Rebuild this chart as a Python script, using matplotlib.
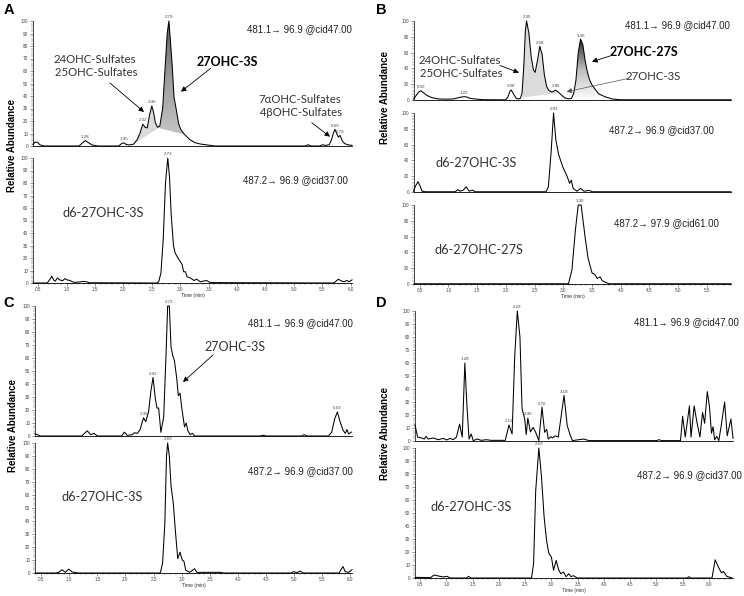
import matplotlib
matplotlib.use("Agg")
import matplotlib.pyplot as plt
import numpy as np
from matplotlib.patches import Polygon
from matplotlib.ticker import MultipleLocator, FormatStrFormatter
from matplotlib.colors import LinearSegmentedColormap

W, H = 744, 596
plt.rcParams['font.family'] = ['Liberation Sans', 'DejaVu Sans']
LABEL_FONT = ['Lato', 'DejaVu Sans']

# ---- chromatogram traces (time in min, relative abundance) ----
a_top_t = [0.41, 0.44, 0.49, 0.53, 0.60, 1.22, 1.28, 1.33, 1.39, 1.45, 1.55, 1.92, 1.97, 2.01, 2.05, 2.10,
           2.18, 2.24, 2.29, 2.34, 2.38, 2.42, 2.46, 2.50, 2.53, 2.56, 2.60, 2.64, 2.69, 2.73, 2.77, 2.80,
           2.83, 2.86, 2.89, 2.93, 2.97, 3.01, 3.08, 3.17, 3.26, 3.35, 3.45, 3.60, 5.20, 5.25, 5.30, 5.45,
           5.50, 5.55, 5.62, 5.66, 5.69, 5.72, 5.75, 5.78, 5.81, 5.85, 5.89, 5.94, 6.02]
a_top_y = [1, 3, 3, 1, 0, 0, 2.5, 4.3, 2.5, 0.8, 0, 0, 2, 2.5, 1.2, 0.8,
           1.5, 5, 10, 17.5, 15, 14.5, 25, 32, 27, 19, 15, 16, 30, 60, 90, 100,
           82, 63, 39, 29, 18, 13, 9, 5, 2.7, 1.6, 1, 0, 0, 1, 0, 0,
           1, 0.5, 1, 5, 10, 13.3, 10, 7, 8.5, 4, 2, 1, 0.5]
a_top_peaks = [("1.28", 1.33, 4.3), ("1.95", 2.01, 2.5), ("2.32", 2.34, 17.5), ("2.46", 2.50, 32),
               ("2.79", 2.80, 100), ("5.69", 5.72, 13.3), ("5.79", 5.81, 8.5)]

a_bot_t = [0.41, 0.66, 0.71, 0.74, 0.78, 0.80, 0.84, 0.88, 0.93, 0.97, 1.01, 1.06, 1.10, 1.15, 1.22, 1.30,
           1.35, 1.40, 2.58, 2.62, 2.66, 2.70, 2.74, 2.78, 2.81, 2.84, 2.88, 2.91, 2.96, 3.03, 3.06, 3.09,
           3.12, 3.18, 3.24, 3.29, 3.35, 3.46, 3.52, 3.60, 5.70, 5.74, 5.78, 5.84, 5.88, 5.93, 5.97, 6.02]
a_bot_y = [0, 0, 3, 5.4, 2, 1.5, 4, 2.5, 1.8, 3.5, 2.5, 2, 1, 0.5, 0.8, 1.3,
           1, 0.2, 0, 1, 8, 35, 80, 100, 85, 55, 30, 24, 20, 15, 9, 9,
           5, 4, 2, 3, 1, 2, 0.5, 0.3, 0, 1.5, 3, 1.5, 1, 2, 1, 2.5]
a_bot_peaks = [("2.73", 2.78, 100)]

b_top_t = [0.39, 0.43, 0.48, 0.52, 0.57, 0.62, 0.71, 0.83, 1.00, 1.10, 1.20, 1.27, 1.32, 1.38, 1.47, 1.59,
           1.99, 2.03, 2.07, 2.09, 2.13, 2.18, 2.22, 2.25, 2.28, 2.31, 2.34, 2.36, 2.40, 2.44, 2.48, 2.51,
           2.55, 2.59, 2.63, 2.67, 2.71, 2.75, 2.80, 2.87, 2.92, 2.97, 3.03, 3.09, 3.14, 3.18, 3.22, 3.26,
           3.30, 3.34, 3.38, 3.42, 3.46, 3.50, 3.61, 3.73, 3.85, 4.00, 5.92]
b_top_y = [1, 5, 10, 11.8, 9, 6, 3, 1.3, 1, 1.5, 3.4, 4.2, 3.8, 2, 1.3, 0.4,
           0.2, 3, 11, 12.7, 8, 2, 1.3, 2, 8, 40, 88, 100, 85, 55, 38, 35,
           50, 68, 58, 32, 17, 12, 10, 12.5, 9.5, 6, 2.5, 1.5, 2, 8, 25, 60,
           77, 70, 50, 35, 25, 19, 8, 4, 1.3, 0.3, 0.3]
b_top_peaks = [("0.50", 0.52, 11.8), ("1.22", 1.27, 4.2), ("2.08", 2.09, 12.7), ("2.35", 2.36, 100),
               ("2.58", 2.59, 68), ("2.86", 2.87, 12.5), ("3.30", 3.30, 77)]

b_mid_t = [0.39, 0.43, 0.47, 0.51, 0.54, 0.60, 1.12, 1.16, 1.20, 1.26, 1.31, 1.36, 1.42, 1.46, 2.70, 2.74,
           2.79, 2.83, 2.87, 2.92, 2.99, 3.07, 3.11, 3.14, 3.17, 3.24, 3.30, 3.36, 3.45, 3.51, 5.92]
b_mid_y = [1, 8, 13, 7, 1, 0.3, 0.3, 3, 1, 2.5, 6.5, 1, 2.5, 0.3, 0.3, 6.5,
           53, 100, 66, 47, 32, 19, 11, 15, 4.6, 1, 4.6, 1, 2, 0.3, 0.3]
b_mid_peaks = [("2.83", 2.83, 100)]

b_bot_t = [0.40, 3.09, 3.15, 3.21, 3.26, 3.31, 3.38, 3.43, 3.50, 3.55, 3.59, 3.64, 3.68, 3.74, 3.80, 5.92]
b_bot_y = [0.3, 0.3, 17.7, 68, 100, 100, 59, 33, 14, 12, 7, 9, 4, 2, 0.3, 0.3]
b_bot_peaks = [("3.30", 3.285, 100)]

c_top_t = [0.39, 0.43, 0.48, 1.22, 1.27, 1.32, 1.38, 1.44, 1.50, 1.93, 1.98, 2.03, 2.12, 2.16, 2.21, 2.26,
           2.32, 2.36, 2.41, 2.45, 2.49, 2.53, 2.56, 2.59, 2.63, 2.68, 2.72, 2.75, 2.78, 2.81, 2.84, 2.87,
           2.91, 2.94, 2.97, 3.00, 3.03, 3.05, 3.08, 3.11, 3.15, 3.19, 3.23, 4.40, 4.45, 4.50, 5.13, 5.18,
           5.23, 5.61, 5.67, 5.72, 5.77, 5.81, 5.87, 5.91, 5.94, 5.97, 6.02]
c_top_y = [1.5, 1.2, 0, 0, 2, 4, 1, 2, 0, 0, 3, 0.5, 1, 2.5, 2, 5,
           14, 11, 18.5, 34, 45, 29, 21.5, 21.5, 2.8, 14.8, 61, 100, 100, 68.6, 62, 58,
           45, 31, 33, 22, 13, 7, 10, 4, 1, 2, 0, 0, 0.6, 0, 0, 1,
           0, 0, 3, 13, 18.5, 12, 4.5, 2, 5, 1.5, 3]
c_top_peaks = [("2.35", 2.32, 14), ("2.42", 2.49, 45), ("2.73", 2.765, 100), ("5.69", 5.77, 18.5)]

c_bot_t = [0.39, 0.76, 0.81, 0.87, 0.93, 0.99, 1.05, 1.17, 2.62, 2.66, 2.70, 2.73, 2.75, 2.78, 2.81, 2.85,
           2.89, 2.93, 2.97, 3.01, 3.04, 3.07, 3.14, 3.23, 3.27, 3.68, 3.75, 4.95, 4.99, 5.05, 5.11, 5.16,
           5.80, 5.87, 5.91, 5.97, 6.03]
c_bot_y = [0, 0, 0.4, 2.5, 0.5, 3, 0.8, 0, 0, 7.7, 38, 90, 100, 90, 67, 54,
           31, 11, 16, 10, 9, 2.3, 0.5, 3.3, 0.5, 0.5, 0, 0, 1, 0.3, 1.5, 0,
           0, 5, 1, 0.5, 2.5]
c_bot_peaks = [("2.69", 2.75, 100)]

d_top_t = [0.40, 0.45, 0.53, 0.58, 0.61, 0.65, 0.75, 0.84, 0.94, 1.00, 1.07, 1.13, 1.19, 1.25, 1.30, 1.35,
           1.39, 1.43, 1.47, 1.51, 1.59, 1.66, 1.76, 1.85, 2.12, 2.19, 2.25, 2.30, 2.35, 2.40, 2.44, 2.49,
           2.52, 2.55, 2.60, 2.65, 2.70, 2.76, 2.82, 2.87, 2.91, 2.94, 2.99, 3.02, 3.07, 3.13, 3.24, 3.30,
           3.35, 3.40, 3.52, 3.62, 3.71, 5.00, 5.05, 5.10, 5.46, 5.50, 5.55, 5.63, 5.66, 5.72, 5.77, 5.83,
           5.88, 5.92, 5.97, 6.01, 6.05, 6.08, 6.11, 6.15, 6.19, 6.24, 6.30, 6.35, 6.42, 6.46]
d_top_y = [12.3, 3, 2.3, 1.5, 3.6, 1.5, 2.3, 1, 2, 0.8, 2, 1, 3, 13, 3, 60,
           27, 1.5, 5.4, 0.3, 1.5, 0.5, 1, 0.5, 0.5, 12.3, 5.4, 65, 100, 80, 25, 17,
           5, 17.6, 7, 10.5, 6.7, 0.3, 26, 6.7, 9, 1.5, 3.3, 2.3, 4, 3, 35, 12,
           5.4, 0.3, 1, 1.5, 0.3, 0.3, 1, 0.3, 0.3, 19, 3, 27, 3, 27, 15, 3,
           22, 13.6, 38, 27, 6, 11, 1, 3.5, 0.3, 13, 30, 4, 17, 2]
d_top_peaks = [("1.28", 1.35, 60), ("2.12", 2.19, 12.3), ("2.29", 2.35, 100), ("2.40", 2.55, 17.6),
               ("2.76", 2.82, 26), ("3.18", 3.24, 35)]

d_bot_t = [0.40, 0.70, 0.76, 0.85, 0.94, 1.01, 1.07, 1.38, 1.42, 1.46, 2.62, 2.66, 2.70, 2.76, 2.81, 2.86,
           2.91, 2.95, 3.00, 3.04, 3.09, 3.14, 3.18, 3.23, 3.28, 3.33, 3.37, 3.42, 3.49, 5.58, 5.62, 5.66,
           6.06, 6.12, 6.19, 6.24, 6.28, 6.34, 6.44]
d_bot_y = [0.5, 0.3, 2.3, 1.5, 0.8, 1.3, 0, 0, 1.3, 0, 0, 11, 67, 100, 78, 47,
           28, 19, 16, 6, 13.5, 6, 3.3, 4.6, 1, 3.3, 1, 1.8, 0, 0, 1, 0,
           0, 14, 7.7, 4, 5, 1.3, 0]
d_bot_peaks = [("2.69", 2.76, 100)]


def px(x, y):
    return x / W, 1 - y / H


def make_ax(fig, x0, x1, ybase, ytop, tlim, ystep, yminor, bottom):
    ax = fig.add_axes([x0 / W, 1 - ybase / H, (x1 - x0) / W, (ybase - ytop) / H])
    ax.patch.set_alpha(0)
    for s in ('top', 'right'):
        ax.spines[s].set_visible(False)
    ax.spines['left'].set_linewidth(0.5)
    ax.spines['bottom'].set_linewidth(0.6)
    ax.yaxis.set_major_locator(MultipleLocator(ystep))
    ax.yaxis.set_minor_locator(MultipleLocator(yminor))
    ax.tick_params(axis='y', which='major', labelsize=3.3, length=2.2, width=0.4, pad=1.2,
                   colors='#444')
    ax.tick_params(axis='y', which='minor', length=1.3, width=0.3, colors='#444')
    if bottom:
        ax.xaxis.set_major_locator(MultipleLocator(0.5))
        ax.xaxis.set_minor_locator(MultipleLocator(0.1))
        ax.xaxis.set_major_formatter(FormatStrFormatter('%.1f'))
        ax.tick_params(axis='x', which='major', labelsize=3.3, length=2.2, width=0.4, pad=1,
                       colors='#444')
        ax.tick_params(axis='x', which='minor', length=1.3, width=0.3, colors='#444')
        ax.set_xlabel('Time (min)', fontsize=3.6, labelpad=0.5, color='#333')
    else:
        ax.tick_params(axis='x', which='both', bottom=False, labelbottom=False)
    ax._lims = (tlim, (0, 100))
    return ax


def finish(ax):
    ax.set_xlim(*ax._lims[0])
    ax.set_ylim(*ax._lims[1])


def trace(ax, t, y, peaks):
    ax.plot(t, y, color='black', lw=0.75, clip_on=False, zorder=3)
    for lab, pt, py in peaks:
        ax.annotate(lab, (pt, py), xytext=(0, 1.2), textcoords='offset points', ha='center',
                    va='bottom', fontsize=3.2, color='#444', annotation_clip=False)


def region(ax, t, y, t0, t1, b0, b1, colors):
    tt = np.asarray(t, float)
    yy = np.asarray(y, float)
    m = (tt > t0) & (tt < t1)
    xs = np.concatenate([[t0], tt[m], [t1]])
    ys = np.concatenate([[np.interp(t0, tt, yy)], yy[m], [np.interp(t1, tt, yy)]])
    verts = list(zip(xs, ys)) + [(t1, b1), (t0, b0)]
    poly = Polygon(verts, closed=True, facecolor='none', edgecolor='none')
    ax.add_patch(poly)
    if len(colors) == 1:
        poly.set_facecolor(colors[0])
        return
    cmap = LinearSegmentedColormap.from_list('g', colors)
    grad = np.linspace(0, 1, 256).reshape(-1, 1)
    im = ax.imshow(grad, extent=(t0, t1, min(b0, b1), ys.max()), origin='lower', aspect='auto',
                   cmap=cmap, zorder=1)
    im.set_clip_path(poly)


def ftext(fig, x, y, s, **kw):
    kw.setdefault('ha', 'center')
    kw.setdefault('va', 'center')
    fig.text(*px(x, y), s, **kw)


def arrow(fig, x0, y0, x1, y1, color='black', lw=0.6):
    fig.add_artist(matplotlib.patches.FancyArrowPatch(
        px(x0, y0), px(x1, y1), transform=fig.transFigure, arrowstyle='-|>,head_length=3,head_width=1.5',
        color=color, lw=lw, shrinkA=0, shrinkB=0))


fig = plt.figure(figsize=(W / 100, H / 100), dpi=100)

# ---- panel A ----
tA = (0.41, 6.02)
ax = make_ax(fig, 33, 352, 146, 21, tA, 10, 2, False)
region(ax, a_top_t, a_top_y, 2.18, 2.62, 1.5, 14.5, ['#dadada'])
region(ax, a_top_t, a_top_y, 2.62, 3.08, 14.5, 9, ['#c4c4c4', '#9c9c9c', '#5e5e5e'])
trace(ax, a_top_t, a_top_y, a_top_peaks)
finish(ax)
ax = make_ax(fig, 33, 352, 283, 158, tA, 10, 2, True)
trace(ax, a_bot_t, a_bot_y, a_bot_peaks)
finish(ax)

# ---- panel B ----
tB = (0.40, 5.92)
ax = make_ax(fig, 414, 731, 100, 21, tB, 20, 4, False)
region(ax, b_top_t, b_top_y, 2.29, 2.92, 3, 9, ['#dcdcdc'])
region(ax, b_top_t, b_top_y, 3.15, 3.55, 0, 0, ['#ffffff', '#bdbdbd', '#2e2e2e'])
trace(ax, b_top_t, b_top_y, b_top_peaks)
finish(ax)
ax = make_ax(fig, 414, 731, 192, 113, tB, 20, 4, False)
trace(ax, b_mid_t, b_mid_y, b_mid_peaks)
finish(ax)
ax = make_ax(fig, 414, 731, 284, 205, tB, 20, 4, True)
trace(ax, b_bot_t, b_bot_y, b_bot_peaks)
finish(ax)

# ---- panel C ----
tC = (0.39, 6.03)
ax = make_ax(fig, 35, 352, 436, 306, tC, 10, 2, False)
trace(ax, c_top_t, c_top_y, c_top_peaks)
finish(ax)
ax = make_ax(fig, 35, 352, 573, 443, tC, 10, 2, True)
trace(ax, c_bot_t, c_bot_y, c_bot_peaks)
finish(ax)

# ---- panel D ----
tD = (0.40, 6.46)
ax = make_ax(fig, 415, 733, 441, 311, tD, 10, 2, False)
trace(ax, d_top_t, d_top_y, d_top_peaks)
finish(ax)
ax = make_ax(fig, 415, 733, 578, 448, tD, 10, 2, True)
trace(ax, d_bot_t, d_bot_y, d_bot_peaks)
finish(ax)

# ---- labels ----
for s, x, y in [('A', 8.5, 10), ('B', 381.5, 10), ('C', 8.5, 303), ('D', 381.5, 303)]:
    ftext(fig, x, y, s, fontsize=10.5, fontweight='bold')
for x, y in [(12, 146), (385, 97), (13, 426), (385, 433)]:
    ftext(fig, x, y, 'Relative Abundance', fontsize=7, fontweight='bold', rotation=90)

tr = dict(fontsize=7, ha='right', color='#222')
ftext(fig, 352, 29, '481.1\u2192 96.9 @cid47.00', **tr)
ftext(fig, 348, 180, '487.2\u2192 96.9 @cid37.00', **tr)
ftext(fig, 730, 25, '481.1\u2192 96.9 @cid47.00', **tr)
ftext(fig, 714, 130, '487.2\u2192 96.9 @cid37.00', **tr)
ftext(fig, 719, 223, '487.2\u2192 97.9 @cid61.00', **tr)
ftext(fig, 353, 323, '481.1\u2192 96.9 @cid47.00', **tr)
ftext(fig, 353, 471, '487.2\u2192 96.9 @cid37.00', **tr)
ftext(fig, 739, 322, '481.1\u2192 96.9 @cid47.00', **tr)
ftext(fig, 742, 475, '487.2\u2192 96.9 @cid37.00', **tr)

cmp = dict(fontsize=8.2, family=LABEL_FONT, color='#333', linespacing=1.25)
big = dict(fontsize=9.2, family=LABEL_FONT, color='#333')
ftext(fig, 95, 66, '24OHC-Sulfates\n 25OHC-Sulfates', **cmp)
ftext(fig, 227, 62, '27OHC-3S', fontsize=9, family=LABEL_FONT, fontweight='bold')
ftext(fig, 300, 106, '7\u03b1OHC-Sulfates\n 4\u03b2OHC-Sulfates', **cmp)
ftext(fig, 103, 213, 'd6-27OHC-3S', **big)
arrow(fig, 110, 83, 144, 112)
arrow(fig, 210.7, 68.3, 181, 91.7)
arrow(fig, 311.7, 122.7, 330, 136.7)

ftext(fig, 460, 67, '24OHC-Sulfates\n 25OHC-Sulfates', **cmp)
ftext(fig, 644, 52, '27OHC-27S', fontsize=9, family=LABEL_FONT, fontweight='bold')
ftext(fig, 653, 76, '27OHC-3S', **cmp)
ftext(fig, 476, 163, 'd6-27OHC-3S', **big)
ftext(fig, 479, 250, 'd6-27OHC-27S', **big)
arrow(fig, 500, 65.5, 519, 72.7)
arrow(fig, 610, 56, 592, 61.7)
arrow(fig, 628, 78.5, 566.7, 91.7, color='#555', lw=0.5)

ftext(fig, 235, 347, '27OHC-3S', fontsize=9, family=LABEL_FONT, color='#333')
ftext(fig, 102, 497, 'd6-27OHC-3S', **big)
arrow(fig, 213, 355, 183, 382)
ftext(fig, 471, 507, 'd6-27OHC-3S', **big)

fig.savefig('out.png', dpi=100)
